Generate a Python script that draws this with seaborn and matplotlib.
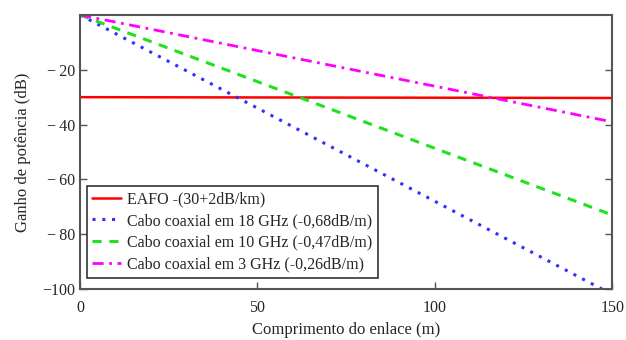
import matplotlib
matplotlib.use("Agg")
import matplotlib.pyplot as plt
import seaborn as sns
import pandas as pd

# Data (endpoints of straight lines)
x_km = [0, 150]
eafo = [-30, -30.3]
coax18 = [0, -102]
coax10 = [0, -73]
coax3 = [0, -39]
labels = ["EAFO -(30+2dB/km)",
          "Cabo coaxial em 18 GHz (-0,68dB/m)",
          "Cabo coaxial em 10 GHz (-0,47dB/m)",
          "Cabo coaxial em 3 GHz (-0,26dB/m)"]
yticks = [-20, -40, -60, -80, -100]
ytick_labels = ["\u2212\u200920", "\u2212\u200940", "\u2212\u200960", "\u2212\u200980", "\u2212100"]
xticks = [0, 50, 100, 150]

sns.set_theme(style="white")
plt.rcParams['font.family'] = ['Liberation Serif', 'DejaVu Serif']

fig = plt.figure(figsize=(6.26, 3.40), dpi=100)
ax = fig.add_axes([0.128, 0.15, 0.85, 0.806])

series = [eafo, coax18, coax10, coax3]
colors = ["#ff0000", "#3030ff", "#20e020", "#ff00ff"]
styles = ["-", (0, (1, 2.2)), (0, (3, 2.5)), (0, (4, 2, 1, 2))]
widths = [1.8, 2.2, 2.2, 2.0]
for ys, lab, c, ls, lw in zip(series, labels, colors, styles, widths):
    df = pd.DataFrame({"x": x_km, "y": ys})
    sns.lineplot(data=df, x="x", y="y", ax=ax, color=c, linestyle=ls,
                 linewidth=lw, label=lab)

ax.set_xlim(0, 150)
ax.set_ylim(-100, 0)
ax.set_yticks(yticks)
ax.set_yticklabels(ytick_labels)
ax.set_xticks(xticks)
ax.set_xticklabels([str(v) for v in xticks])
ax.tick_params(direction="in", length=5, width=1, color="#555555",
               labelsize=11.5, top=False, right=True, left=True, bottom=True)
ax.tick_params(axis="x", pad=8)
for s in ax.spines.values():
    s.set_color("#555555")
    s.set_linewidth(1.5)
ax.set_xlabel("Comprimento do enlace (m)", fontsize=12, labelpad=4)
ax.set_ylabel("Ganho de potência (dB)", fontsize=12, labelpad=8)

leg = ax.legend(loc="lower left", bbox_to_anchor=(0.012, 0.04), fontsize=11.5,
                frameon=True, fancybox=False, framealpha=1, edgecolor="#333333",
                handlelength=1.8, handletextpad=0.4, borderpad=0.35,
                labelspacing=0.36, borderaxespad=0)
leg.get_frame().set_linewidth(1.2)

fig.savefig("out.png", dpi=100)
